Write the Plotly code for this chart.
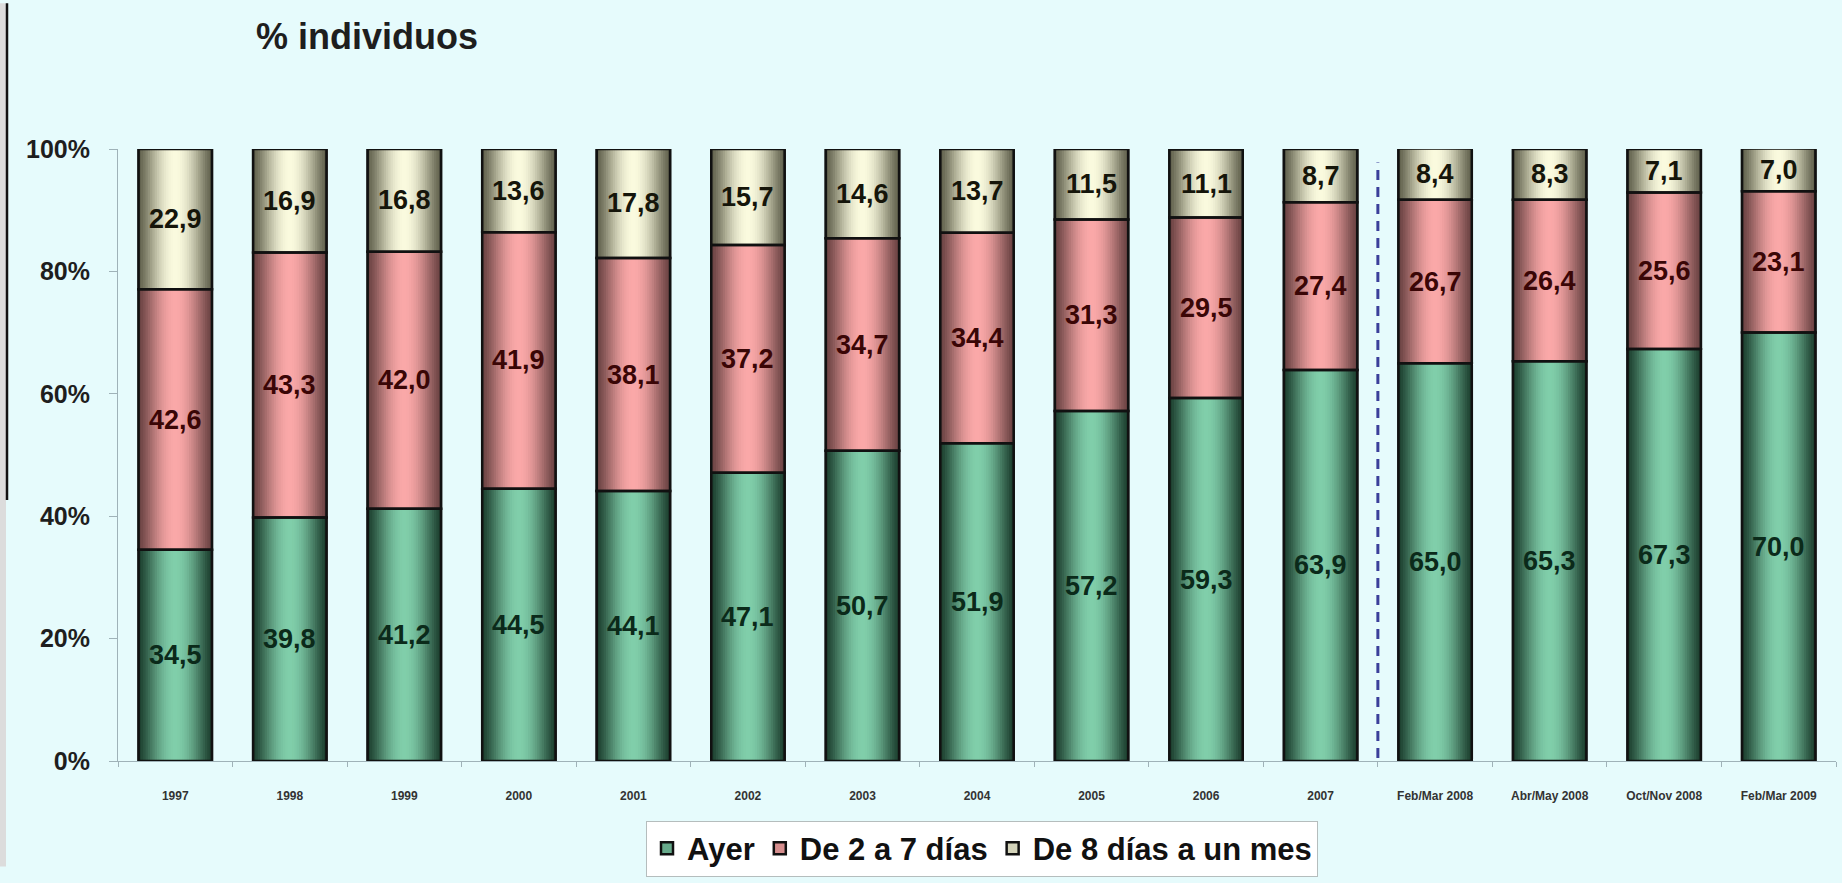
import numpy as np
import plotly.graph_objects as go

# ---- data -------------------------------------------------------------
periodos = ["1997", "1998", "1999", "2000", "2001", "2002", "2003", "2004",
            "2005", "2006", "2007", "Feb/Mar 2008", "Abr/May 2008",
            "Oct/Nov 2008", "Feb/Mar 2009"]
ayer = [34.5, 39.8, 41.2, 44.5, 44.1, 47.1, 50.7, 51.9, 57.2, 59.3, 63.9,
        65.0, 65.3, 67.3, 70.0]
de_2_a_7 = [42.6, 43.3, 42.0, 41.9, 38.1, 37.2, 34.7, 34.4, 31.3, 29.5, 27.4,
            26.7, 26.4, 25.6, 23.1]
de_8_a_mes = [22.9, 16.9, 16.8, 13.6, 17.8, 15.7, 14.6, 13.7, 11.5, 11.1, 8.7,
              8.4, 8.3, 7.1, 7.0]
y_ticks = [0, 20, 40, 60, 80, 100]

# ---- layout geometry (pixels) ----------------------------------------
W, H = 1842, 883
L, R, T, B = 118, 1836, 149, 775


def px(x):
    return (x - L) / (R - L)


def py(y):
    return (B - y) / (B - T)


BG = "#E6FBFC"
FONT = "Liberation Sans, Arial, sans-serif"
BAR_W = 0.64
N_LAYERS = 16

series = [
    dict(name="Ayer", vals=ayer, edge=(28, 62, 46),
         center=(128, 206, 170), txt="#0b2a1a"),
    dict(name="De 2 a 7 días", vals=de_2_a_7, edge=(105, 66, 66),
         center=(250, 168, 168), txt="#3a0606"),
    dict(name="De 8 días a un mes", vals=de_8_a_mes, edge=(96, 96, 76),
         center=(250, 250, 222), txt="#15150a"),
]

bases = []
acc = np.zeros(len(periodos))
for s in series:
    bases.append(acc.copy())
    acc = acc + np.array(s["vals"])


def mix(a, b, w):
    return "rgb(%d,%d,%d)" % tuple(round(a[i] + (b[i] - a[i]) * w) for i in range(3))


fig = go.Figure()

# base fill of each stack segment (also provides the legend entry)
for s, base in zip(series, bases):
    fig.add_trace(go.Bar(
        x=periodos, y=s["vals"], base=base, width=BAR_W, name=s["name"],
        marker=dict(color=mix(s["edge"], s["center"], 0.75),
                    line=dict(color="#111111", width=2.5)),
        hoverinfo="skip", showlegend=True,
    ))

# cylinder shading: nested bars, darker at the edges, lighter in the middle
for s, base in zip(series, bases):
    for k in range(N_LAYERS):
        frac = 1 - k / N_LAYERS
        w = np.sin(np.pi / 2 * (k + 0.5) / N_LAYERS) ** 1.3
        fig.add_trace(go.Bar(
            x=periodos, y=s["vals"], base=base, width=BAR_W * frac,
            marker=dict(color=mix(s["edge"], s["center"], w), line=dict(width=0)),
            hoverinfo="skip", showlegend=False,
        ))

# outlines
for s, base in zip(series, bases):
    fig.add_trace(go.Bar(
        x=periodos, y=s["vals"], base=base, width=BAR_W,
        marker=dict(color="rgba(0,0,0,0)", line=dict(color="#111111", width=2.5)),
        hoverinfo="skip", showlegend=False,
    ))

# value labels centred in each segment (x given as category index)
annotations = []
for s, base in zip(series, bases):
    for i, (b, v) in enumerate(zip(base, s["vals"])):
        annotations.append(dict(
            x=i, y=b + v / 2, xref="x", yref="y",
            text=f"{v:.1f}".replace(".", ","), showarrow=False,
            xanchor="center", yanchor="middle",
            font=dict(family=FONT, size=27, color=s["txt"], weight="bold"),
        ))

annotations.append(dict(text="% individuos", xref="paper", yref="paper",
                        x=px(254), y=py(34), xanchor="left", yanchor="middle",
                        showarrow=False,
                        font=dict(family=FONT, size=36, color="#1e1e1e", weight="bold")))

shapes = [
    # grey strip and dark rule along the left edge of the page
    dict(type="rect", xref="paper", yref="paper", x0=px(0), x1=px(6),
         y0=py(H), y1=py(0), fillcolor="#DCDCDC", line=dict(width=0), layer="below"),
    dict(type="line", xref="paper", yref="paper", x0=px(7), x1=px(7),
         y0=py(508), y1=py(0), line=dict(color="#111111", width=2.5)),
    # separator between yearly and bi-monthly waves
    dict(type="line", xref="x", yref="y", x0=10.5, x1=10.5, y0=0.5, y1=97.8,
         line=dict(color="#3b3f9a", width=3, dash="10px,7px")),
]

fig.update_layout(
    width=W, height=H,
    margin=dict(l=L, r=W - R, t=T, b=H - B, pad=0),
    paper_bgcolor=BG, plot_bgcolor=BG,
    barmode="overlay",
    showlegend=True,
    legend=dict(orientation="h", x=px(646), xanchor="left", y=py(836), yanchor="top",
                bgcolor="white", bordercolor="#b5bdbd", borderwidth=1,
                font=dict(family=FONT, size=31, color="#111111", weight="bold"),
                traceorder="normal", itemwidth=30, tracegroupgap=0),
    xaxis=dict(type="category", range=[-0.5, len(periodos) - 0.5],
               showline=True, linecolor="#9fb2b8", linewidth=1,
               ticks="outside", tickson="boundaries", ticklen=5, tickcolor="#9fb2b8",
               ticklabelstandoff=24,
               tickfont=dict(family=FONT, size=12, color="#333333", weight="bold"),
               showgrid=False, zeroline=False, fixedrange=True),
    yaxis=dict(range=[0, 100], tickvals=y_ticks,
               ticktext=[f"{v}%" for v in y_ticks],
               showline=True, linecolor="#9fb2b8", linewidth=1,
               ticks="outside", ticklen=8, tickcolor="#9fb2b8",
               ticklabelstandoff=14,
               tickfont=dict(family=FONT, size=25, color="#1e1e1e", weight="bold"),
               showgrid=False, zeroline=False, fixedrange=True),
    shapes=shapes,
    annotations=annotations,
)

fig.write_html("out.html", config={"displayModeBar": False})
